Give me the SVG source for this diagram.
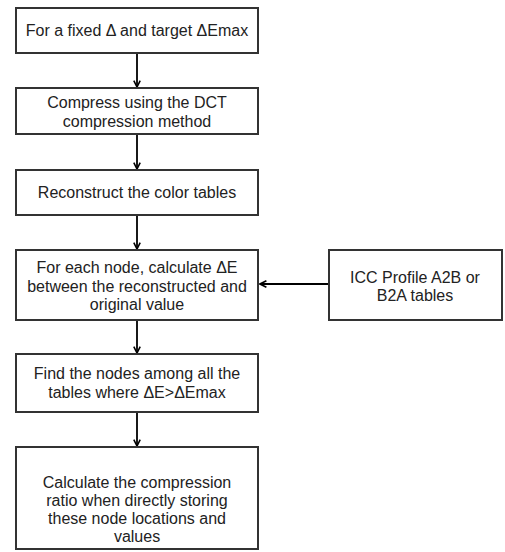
<svg xmlns="http://www.w3.org/2000/svg" width="505" height="552" viewBox="0 0 505 552">
<defs>
<style>
.box{fill:#fff;stroke:#333;stroke-width:2}
.t{font-family:"Liberation Sans",Arial,sans-serif;font-size:16px;fill:#222;text-anchor:middle}
.c{stroke:#000;stroke-width:1.8;fill:none}
</style>
<marker id="ah" viewBox="0 0 10 10" refX="9" refY="5" markerWidth="8" markerHeight="8" orient="auto" markerUnits="userSpaceOnUse">
<path d="M1,1 L9,5 L1,9" fill="none" stroke="#000" stroke-width="2"/>
</marker>
</defs>
<rect width="505" height="552" fill="#fff"/>
<g id="connectors">
<line class="c" x1="137" y1="53" x2="137" y2="87" marker-end="url(#ah)"/>
<line class="c" x1="137" y1="134" x2="137" y2="169" marker-end="url(#ah)"/>
<line class="c" x1="137" y1="215" x2="137" y2="249" marker-end="url(#ah)"/>
<line class="c" x1="137" y1="320" x2="137" y2="353" marker-end="url(#ah)"/>
<line class="c" x1="137" y1="412" x2="137" y2="446" marker-end="url(#ah)"/>
<line class="c" x1="329" y1="284" x2="260" y2="284" marker-end="url(#ah)"/>
</g>
<g id="n1"><rect class="box" x="16" y="8" width="242" height="45"/><text class="t" x="137" y="36">For a fixed Δ and target ΔEmax</text></g>
<g id="n2"><rect class="box" x="16" y="88" width="242" height="46"/><text class="t" x="137" y="108">Compress using the DCT</text><text class="t" x="137" y="127">compression method</text></g>
<g id="n3"><rect class="box" x="16" y="170" width="242" height="45"/><text class="t" x="137" y="198">Reconstruct the color tables</text></g>
<g id="n4"><rect class="box" x="16" y="250" width="242" height="70"/><text class="t" x="137" y="273">For each node, calculate ΔE</text><text class="t" x="137" y="292">between the reconstructed and</text><text class="t" x="137" y="310">original value</text></g>
<g id="n5"><rect class="box" x="16" y="354" width="242" height="58"/><text class="t" x="137" y="379">Find the nodes among all the</text><text class="t" x="137" y="398">tables where ΔE&gt;ΔEmax</text></g>
<g id="n6"><rect class="box" x="16" y="447" width="242" height="102"/><text class="t" x="137" y="488">Calculate the compression</text><text class="t" x="137" y="506">ratio when directly storing</text><text class="t" x="137" y="524">these node locations and</text><text class="t" x="137" y="542">values</text></g>
<g id="n7"><rect class="box" x="329" y="250" width="173" height="70"/><text class="t" x="415" y="283">ICC Profile A2B or</text><text class="t" x="415" y="301">B2A tables</text></g>
</svg>
